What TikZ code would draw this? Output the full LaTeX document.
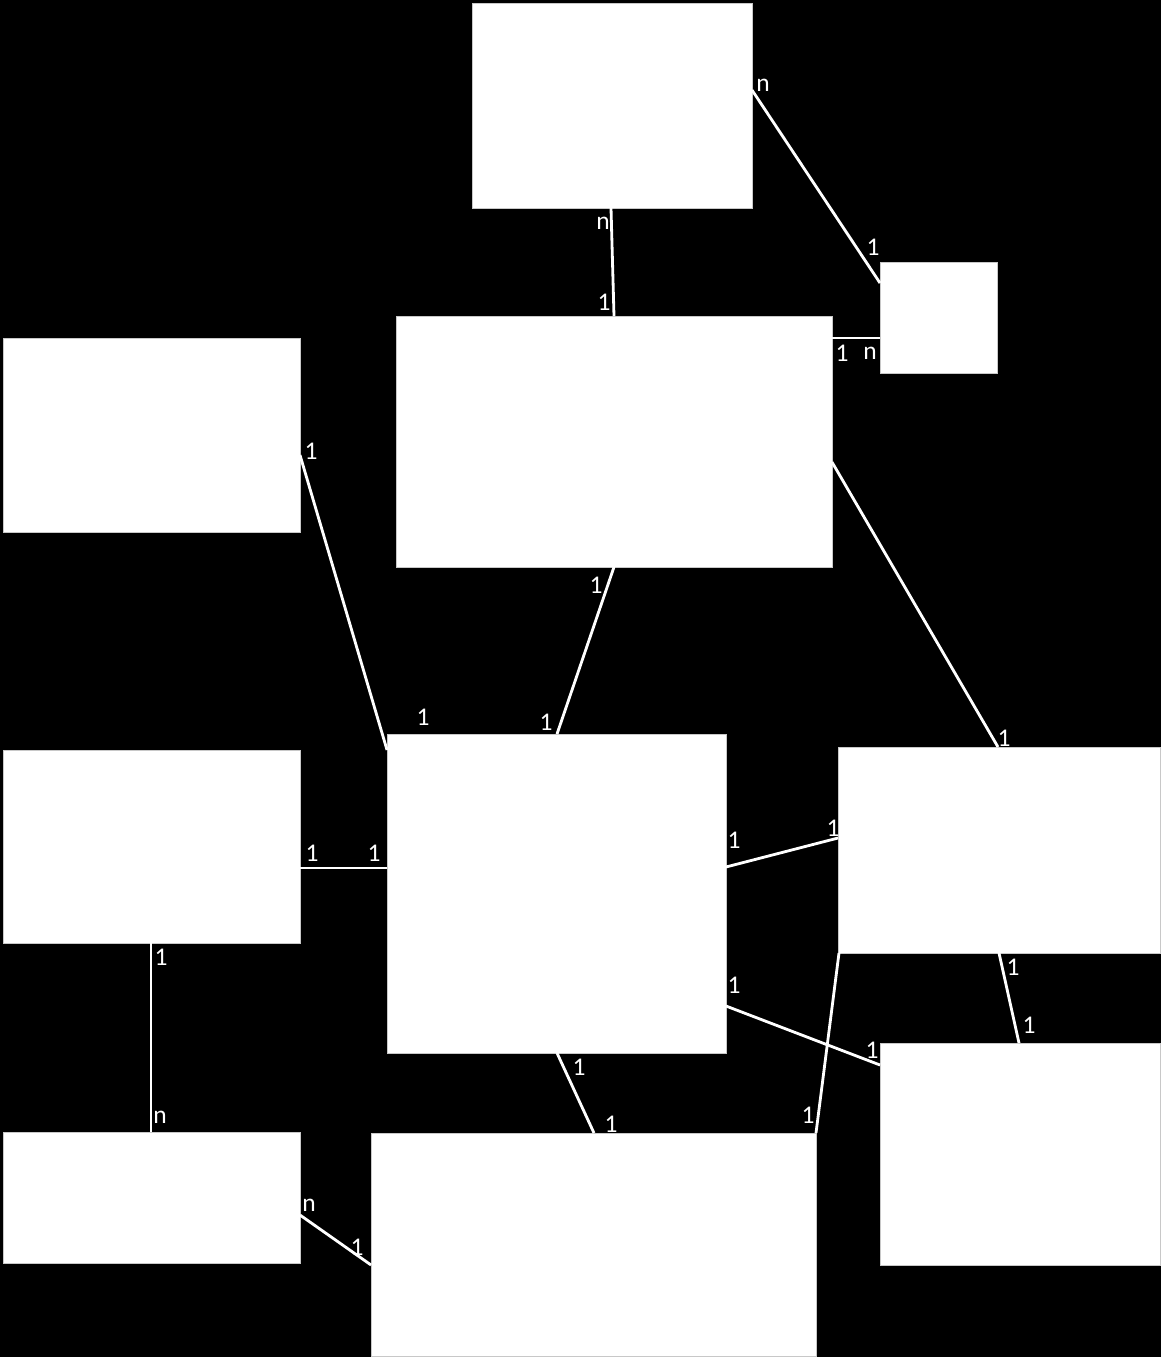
\documentclass[tikz,border=0pt]{standalone}
\usepackage{fontspec}
\setmainfont{Carlito}
\definecolor{myedge}{RGB}{200,200,200}
\begin{document}
\begin{tikzpicture}[x=0.02cm,y=-0.02cm,
    box/.style={fill=white,draw=myedge,very thin,inner sep=0pt,outer sep=0pt},
    link/.style={white,line width=1.6pt},
    lbl/.style={text=white,inner sep=0pt,font=\fontsize{14.5}{16}\selectfont}]
        \fill[black] (0,0) rectangle (1161,1357);
        \useasboundingbox (0,0) rectangle (1161,1357);
        \node[box,minimum width=5.6cm,minimum height=4.1cm] (A) at (612,105.5) {};
        \node[box,minimum width=2.34cm,minimum height=2.22cm] (B) at (938.5,317.5) {};
        \node[box,minimum width=8.72cm,minimum height=5.02cm] (C) at (614,441.5) {};
        \node[box,minimum width=5.94cm,minimum height=3.88cm] (D) at (151.5,435) {};
        \node[box,minimum width=5.94cm,minimum height=3.86cm] (E) at (151.5,846.5) {};
        \node[box,minimum width=6.78cm,minimum height=6.38cm] (F) at (556.5,893.5) {};
        \node[box,minimum width=6.44cm,minimum height=4.12cm] (G) at (999,850) {};
        \node[box,minimum width=5.6cm,minimum height=4.44cm] (H) at (1020,1154) {};
        \node[box,minimum width=5.94cm,minimum height=2.62cm] (I) at (151.5,1197.5) {};
        \node[box,minimum width=8.9cm,minimum height=4.46cm] (J) at (593.5,1244.5) {};
        \draw[link] (A.east |- 0,90) -- (B.west |- 0,283);
        \draw[link] (A.south -| 611,0) -- (C.north -| 614,0);
        \draw[link] (C.east |- 0,338) -- (B.west |- 0,338);
        \draw[link] (C.south -| 614,0) -- (F.north -| 557,0);
        \draw[link] (C.east |- 0,462) -- (G.north -| 998,0);
        \draw[link] (D.east |- 0,455) -- (F.west |- 0,750);
        \draw[link] (E.east |- 0,868) -- (F.west |- 0,868);
        \draw[link] (F.east |- 0,867) -- (G.west |- 0,838);
        \draw[link] (F.east |- 0,1006) -- (H.west |- 0,1065);
        \draw[link] (G.south -| 999,0) -- (H.north -| 1019,0);
        \draw[link] (G.south -| 839,0) -- (J.north -| 816,0);
        \draw[link] (F.south -| 557,0) -- (J.north -| 594,0);
        \draw[link] (E.south -| 151,0) -- (I.north -| 151,0);
        \draw[link] (I.east |- 0,1215) -- (J.west |- 0,1265);
        \foreach \t/\x/\y [count=\i] in {n/763/85,1/873/247,n/603/223,1/604/302,1/842/353,n/870/353,
            1/596/585,1/546/722,1/1004/738,1/311/451,1/423/717,1/312/853,1/374/853,
            1/734/840,1/833/828,1/734/985,1/872/1050,1/1013/967,1/1029/1025,1/808/1115,
            1/579/1067,1/611/1124,1/161/957,n/160/1117,n/309/1205,1/357/1247}
            \node[lbl] (l\i) at (\x,\y) {\t};
    \end{tikzpicture}
\end{document}
